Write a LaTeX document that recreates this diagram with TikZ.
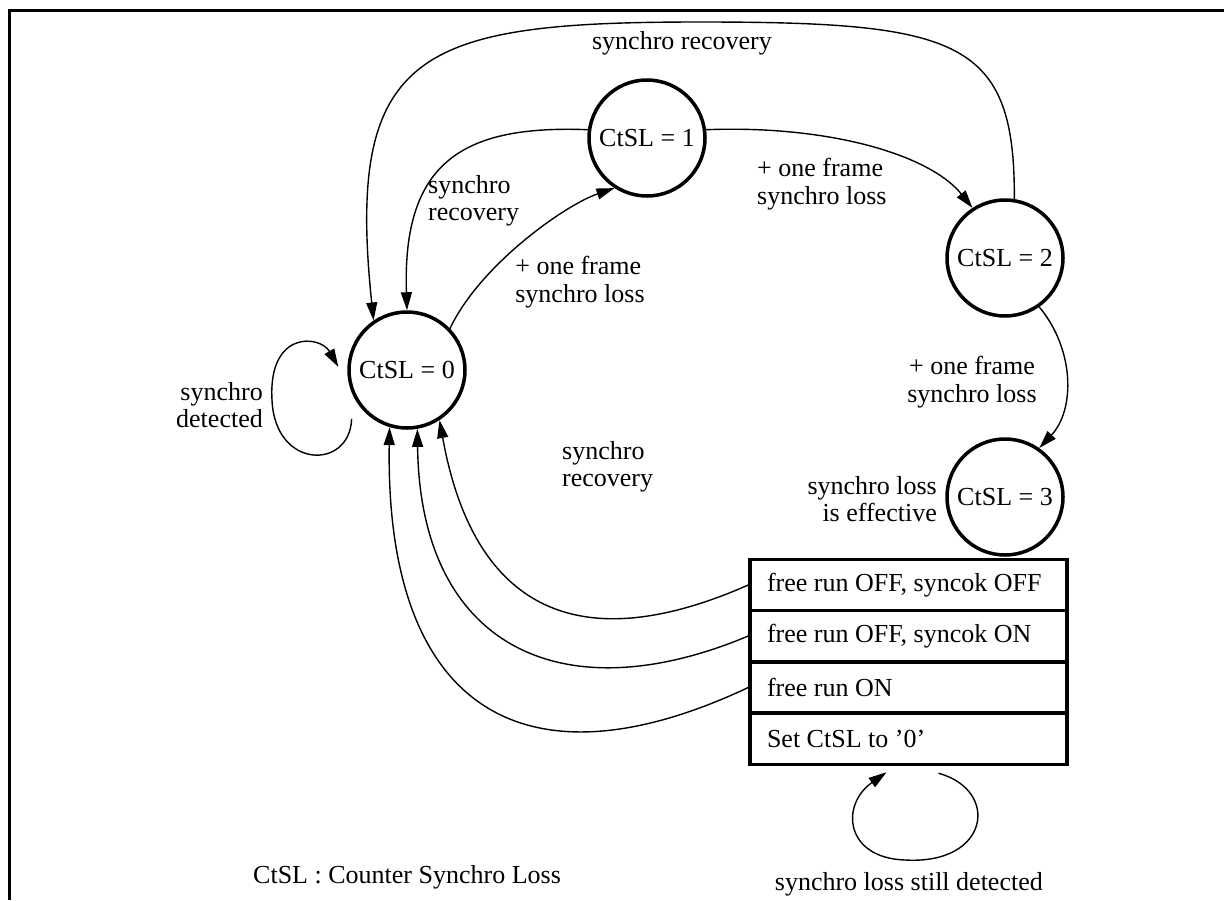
\documentclass[tikz,border=0pt]{standalone}
\usepackage{fontspec}
\setmainfont{Liberation Serif}
\usetikzlibrary{arrows.meta}
\newcommand\rowtext[1]{\makebox[283pt][l]{#1}}
\begin{document}
\begin{tikzpicture}[x=1pt,y=-1pt,
  every node/.style={font=\fontsize{26}{27.5}\selectfont},
  state/.style={circle,draw,line width=3.5pt,minimum size=116pt,inner sep=0pt},
  row/.style={draw,line width=3.5pt,minimum height=51pt,
    inner xsep=17pt,inner ysep=0pt},
  conn/.style={line width=1.4pt,-{Triangle[length=18pt,width=11pt]}},
  lbl/.style={inner sep=0pt},
]
\useasboundingbox (0,0) rectangle (1224,900);
% frame
\draw[line width=3pt] (9,900) -- (9,10) -- (1224,10);

% states
\node[state] (s0) at (407,370) {CtSL = 0};
\node[state] (s1) at (647,138) {CtSL = 1};
\node[state] (s2) at (1005,258) {CtSL = 2};
\node[state] (s3) at (1005,497) {CtSL = 3};

% action box
\node[row] (r1) at (908.5,585)   {\rowtext{free run OFF, syncok OFF}};
\node[row] (r2) at (908.5,636)   {\rowtext{free run OFF, syncok ON}};
\node[row] (r3) at (908.5,687.5) {\rowtext{free run ON}};
\node[row] (r4) at (908.5,739)   {\rowtext{Set CtSL to '0'}};

% transitions
\draw[conn] (s0.44) .. controls (480,265) and (565,205) .. (s1.237);
\draw[conn] (s1.172) .. controls (465,125) and (402,160) .. (s0.90);
\draw[conn] (s1.8) .. controls (830,125) and (930,155) .. (s2.123);
\draw[conn] (s2.305) .. controls (1075,350) and (1075,410) .. (s3.55);
\draw[conn] (s2.81) .. controls (1015,40) and (960,22) .. (700,22)
                    .. controls (420,22) and (345,50) .. (s0.124);
\draw[conn] ([shift={(-11,9)}]s0.222) .. controls (350,470) and (275,470) .. (272,400)
            .. controls (268,330) and (320,335) .. ([xshift=-9pt]s0.177);
\draw[conn] (r1.west) .. controls (560,668) and (470,590) .. (s0.303);
\draw[conn] (r2.west) .. controls (560,715) and (420,645) .. (s0.280);
\draw[conn] (r3.west) .. controls (520,795) and (385,705) .. (s0.253);
\draw[conn] ([shift={(30,7)}]r4.south) .. controls (1000,790) and (990,865) .. (905,860)
            .. controls (845,858) and (840,805) .. ([shift={(-22,6)}]r4.south);

% labels
\node[lbl,align=left] (l01) at (580,282) {+ one frame\\synchro loss};
\node[lbl,align=left,anchor=west] (l10) at (428,201) {synchro\\recovery};
\node[lbl] (l20) at (682,43) {synchro recovery};
\node[lbl,align=left,anchor=west] (l12) at (757,184) {+ one frame\\synchro loss};
\node[lbl,align=center] (l23) at (972,382) {+ one frame\\synchro loss};
\node[lbl,align=right,anchor=east] (l3) at (937,499) {synchro loss\\is effective};
\node[lbl,align=left,anchor=west] (lrec) at (562,467) {synchro\\recovery};
\node[lbl,align=right,anchor=east] (ldet) at (263,405) {synchro\\detected};
\node[lbl,anchor=base west] (lkey) at (253,883) {CtSL : Counter Synchro Loss};
\node[lbl,anchor=base east] (lstill) at (1043,890) {synchro loss still detected};
\end{tikzpicture}
\end{document}
